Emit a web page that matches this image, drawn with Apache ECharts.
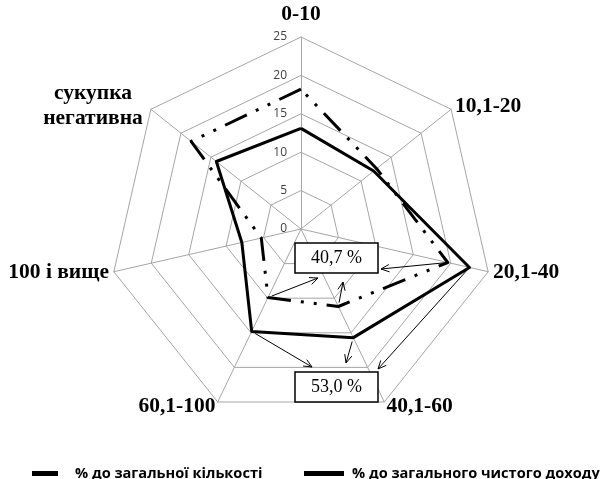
<!DOCTYPE html>
<html>
<head>
<meta charset="utf-8">
<script src="https://cdn.jsdelivr.net/npm/echarts@6/dist/echarts.min.js"></script>
<style>
  html, body { margin: 0; padding: 0; background: #fff; }
  #chart { width: 605px; height: 479px; }
</style>
</head>
<body>
<div id="chart"></div>
<script>
// Income groups (axes of the radar, clockwise from the top)
const categories = ['0-10', '10,1-20', '20,1-40', '40,1-60', '60,1-100', '100 і вище', 'сукупка негативна'];
// Share of the total number of units, %
const shareCount = [18.2, 12.6, 19.6, 11.2, 9.9, 5.3, 18.3];
// Share of the total net income, %
const shareIncome = [13.1, 12.1, 22.5, 15.7, 14.8, 7.9, 14.1];
const seriesNames = ['% до загальної кількості', '% до загального чистого доходу'];
// Scale of the radial axes
const scaleMax = 25;
const tickCount = 5;
// Groups whose shares are summed in the callout boxes (20,1-40 ... 60,1-100)
const groupedIdx = [2, 3, 4];

// ECharts lays radar indicators out counter-clockwise; feed them in reverse
// (keeping the first one on top) so the groups run clockwise.
const order = [0].concat(categories.map((_, i) => i).slice(1).reverse());
const slotOf = {};
order.forEach((catIdx, slot) => { slotOf[catIdx] = slot; });
const inRadarOrder = arr => order.map(i => arr[i]);

const chart = echarts.init(document.getElementById('chart'), null, { renderer: 'canvas' });

const gridColor = '#a6a6a6';
const nameFont = { fontFamily: 'Liberation Serif', fontWeight: 'bold', fontSize: 21.5, color: '#000' };
const legendFont = { fontFamily: 'Open Sans', fontWeight: 'bold', fontSize: 14.6, color: '#000' };

const indicators = order.map((catIdx, slot) => {
  const ind = { name: categories[catIdx], max: scaleMax, min: 0 };
  if (slot === 0) {
    ind.axisLabel = { show: true };
    ind.nameGap = 12;
  }
  return ind;
});

chart.setOption({
  animation: false,
  backgroundColor: '#fff',
  color: ['#000', '#000'],
  legend: [
    {
      data: [seriesNames[0]],
      left: 32, top: 466, padding: 0,
      icon: 'rect', itemWidth: 26, itemHeight: 5,
      selectedMode: false,
      textStyle: Object.assign({ padding: [0, 0, 0, 12] }, legendFont)
    },
    {
      data: [seriesNames[1]],
      left: 304, top: 466, padding: 0,
      icon: 'rect', itemWidth: 40, itemHeight: 5,
      selectedMode: false,
      textStyle: Object.assign({ padding: [0, 0, 0, 3] }, legendFont)
    }
  ],
  radar: {
    center: [301, 229],
    radius: 192,
    startAngle: 90,
    splitNumber: tickCount,
    shape: 'polygon',
    indicator: indicators,
    axisNameGap: 5,
    axisName: Object.assign({}, nameFont, {
      formatter: function (name) {
        if (name === 'сукупка негативна') return '{c|сукупка}\n{c|негативна}';
        return name;
      },
      rich: {
        c: Object.assign({}, nameFont, { width: 108, align: 'center', lineHeight: 25 })
      }
    }),
    axisLine: { lineStyle: { color: gridColor, width: 1 } },
    splitLine: { lineStyle: { color: gridColor, width: 1 } },
    splitArea: { show: false },
    axisTick: { show: false },
    axisLabel: { show: false, fontFamily: 'Open Sans', fontSize: 12, color: '#404040', margin: 14 }
  },
  series: [
    {
      type: 'radar',
      name: seriesNames[0],
      symbol: 'none',
      z: 3,
      lineStyle: { color: '#000', width: 3, type: [24, 10, 3, 10, 3, 10] },
      itemStyle: { color: '#000' },
      data: [{ value: inRadarOrder(shareCount), name: seriesNames[0] }]
    },
    {
      type: 'radar',
      name: seriesNames[1],
      symbol: 'none',
      z: 2,
      lineStyle: { color: '#000', width: 3, type: 'solid' },
      itemStyle: { color: '#000' },
      data: [{ value: inRadarOrder(shareIncome), name: seriesNames[1] }]
    }
  ]
});

// Callout boxes with the summed shares and arrows from the summed vertices
const radarCS = chart.getModel().getComponent('radar').coordinateSystem;
const fmt = v => v.toFixed(1).replace('.', ',') + ' %';
const sumOf = arr => groupedIdx.reduce((s, i) => s + arr[i], 0);

const callouts = [
  {
    values: shareCount,
    box: { x: 295, y: 243, w: 83, h: 30 },
    // arrow tips, one for each grouped axis
    tips: { 2: [381, 269], 3: [343, 282], 4: [318, 278] }
  },
  {
    values: shareIncome,
    box: { x: 295, y: 372, w: 83, h: 30 },
    tips: { 2: [378, 369], 3: [346, 363], 4: [312, 367] }
  }
];

const graphics = [];
callouts.forEach(c => {
  groupedIdx.forEach(i => {
    const p = radarCS.dataToPoint(c.values[i], slotOf[i]);
    const t = c.tips[i];
    const dx = t[0] - p[0], dy = t[1] - p[1];
    const len = Math.sqrt(dx * dx + dy * dy);
    const ux = dx / len, uy = dy / len;
    const start = [p[0] + ux * 4, p[1] + uy * 4];
    graphics.push({
      type: 'line', z: 10,
      shape: { x1: start[0], y1: start[1], x2: t[0], y2: t[1] },
      style: { stroke: '#000', lineWidth: 1 }
    });
    const head = 9, ang = 0.42;
    const back = Math.atan2(-uy, -ux);
    graphics.push({
      type: 'polyline', z: 10,
      shape: { points: [
        [t[0] + head * Math.cos(back + ang), t[1] + head * Math.sin(back + ang)],
        t,
        [t[0] + head * Math.cos(back - ang), t[1] + head * Math.sin(back - ang)]
      ] },
      style: { stroke: '#000', lineWidth: 1, fill: null }
    });
  });
  graphics.push({
    type: 'rect', z: 11,
    shape: { x: c.box.x, y: c.box.y, width: c.box.w, height: c.box.h },
    style: { fill: '#fff', stroke: '#000', lineWidth: 1.5 }
  });
  graphics.push({
    type: 'text', z: 12,
    x: c.box.x + c.box.w / 2, y: c.box.y + c.box.h / 2,
    style: {
      text: fmt(sumOf(c.values)),
      fontFamily: 'Liberation Serif', fontSize: 18, fill: '#000',
      align: 'center', verticalAlign: 'middle'
    }
  });
});

chart.setOption({ graphic: graphics });
</script>
</body>
</html>
